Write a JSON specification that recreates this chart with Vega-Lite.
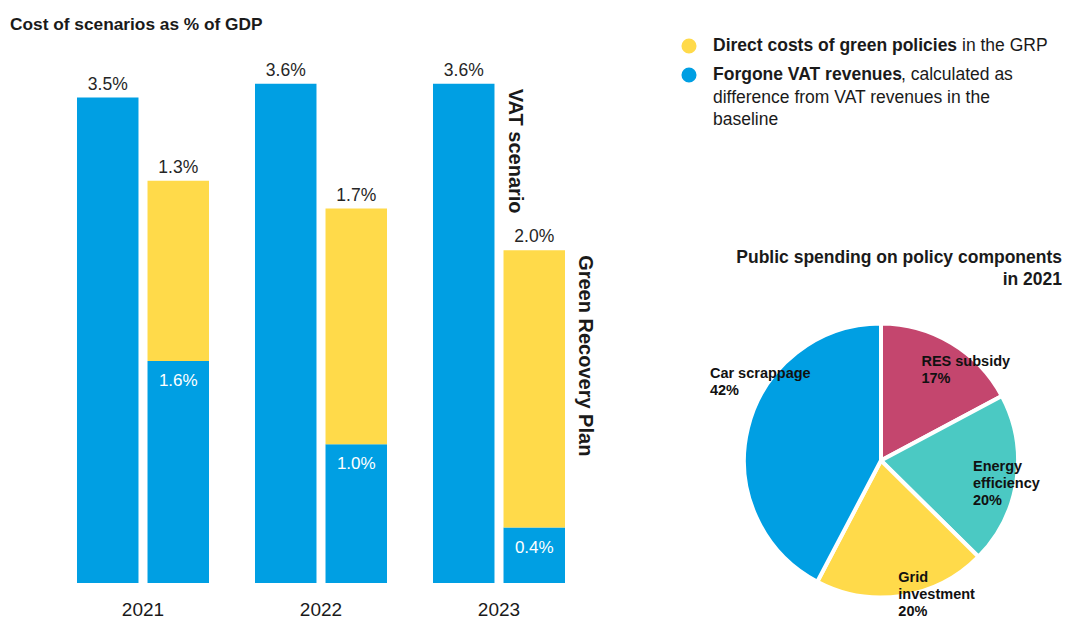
{
  "$schema": "https://vega.github.io/schema/vega-lite/v6.json",
  "padding": {"left": 10, "top": 15, "right": 0, "bottom": 0},
  "background": "white",
  "title": {"text": "Cost of scenarios as % of GDP", "anchor": "start", "fontSize": 17.3, "fontWeight": "bold", "color": "#1a1a1a", "offset": 3, "font": "Liberation Sans"},
  "bounds": "flush",
  "spacing": 68,
  "config": {
    "view": {"stroke": null},
    "font": "Liberation Sans",
    "text": {"font": "Liberation Sans"},
    "title": {"font": "Liberation Sans"},
    "axis": {"labelFont": "Liberation Sans"}
  },
  "resolve": {"scale": {"color": "independent"}},
  "datasets": {
    "bars": [
      {"year": "2021", "scenario": "VAT scenario", "component": "Forgone VAT revenues", "value": 0.035},
      {"year": "2021", "scenario": "Green Recovery Plan", "component": "Forgone VAT revenues", "value": 0.016},
      {"year": "2021", "scenario": "Green Recovery Plan", "component": "Direct costs of green policies", "value": 0.013},
      {"year": "2022", "scenario": "VAT scenario", "component": "Forgone VAT revenues", "value": 0.036},
      {"year": "2022", "scenario": "Green Recovery Plan", "component": "Forgone VAT revenues", "value": 0.010},
      {"year": "2022", "scenario": "Green Recovery Plan", "component": "Direct costs of green policies", "value": 0.017},
      {"year": "2023", "scenario": "VAT scenario", "component": "Forgone VAT revenues", "value": 0.036},
      {"year": "2023", "scenario": "Green Recovery Plan", "component": "Forgone VAT revenues", "value": 0.004},
      {"year": "2023", "scenario": "Green Recovery Plan", "component": "Direct costs of green policies", "value": 0.020}
    ],
    "legend": [
      {"component": "Direct costs of green policies", "rest": "in the GRP", "more": ""},
      {"component": "Forgone VAT revenues", "rest": ", calculated as", "more": "difference from VAT revenues in the\nbaseline"}
    ],
    "pie": [
      {"item": "RES subsidy", "share": 17.2, "rank": 1, "label": "RES subsidy\n17%"},
      {"item": "Energy efficiency", "share": 20.2, "rank": 2, "label": "Energy\nefficiency\n20%"},
      {"item": "Grid investment", "share": 20.3, "rank": 3, "label": "Grid\ninvestment\n20%"},
      {"item": "Car scrappage", "share": 42.3, "rank": 4, "label": "Car scrappage\n42%"}
    ]
  },
  "hconcat": [
    {
      "width": 622,
      "height": 547,
      "data": {"name": "bars"},
      "transform": [
        {"stack": "value", "groupby": ["year", "scenario"], "sort": [{"field": "component", "order": "descending"}], "as": ["v0", "v1"]}
      ],
      "encoding": {
        "x": {"field": "year", "type": "nominal", "scale": {"paddingInner": 0.2584, "paddingOuter": 0.3764},
              "axis": {"title": null, "domain": false, "ticks": false, "labelAngle": 0, "labelFontSize": 19, "labelColor": "#1a1a1a", "labelPadding": 17}},
        "xOffset": {"field": "scenario", "type": "nominal", "scale": {"domain": ["VAT scenario", "Green Recovery Plan"], "paddingInner": 0.128, "paddingOuter": 0}},
        "y": {"field": "v1", "type": "quantitative", "stack": null, "scale": {"domain": [0, 0.03944], "nice": false}, "axis": null}
      },
      "layer": [
        {
          "mark": {"type": "bar"},
          "encoding": {
            "y2": {"field": "v0"},
            "color": {"field": "component", "type": "nominal", "scale": {"domain": ["Direct costs of green policies", "Forgone VAT revenues"], "range": ["#FFDA4A", "#009FE3"]}, "legend": null}
          }
        },
        {
          "transform": [{"filter": "datum.scenario === 'VAT scenario' || datum.component === 'Direct costs of green policies'"}],
          "mark": {"type": "text", "baseline": "alphabetic", "dy": -8, "fontSize": 17.5, "color": "#262626"},
          "encoding": {"text": {"field": "value", "type": "quantitative", "format": ".1%"}}
        },
        {
          "transform": [{"filter": "datum.scenario === 'Green Recovery Plan' && datum.component === 'Forgone VAT revenues'"}],
          "mark": {"type": "text", "baseline": "alphabetic", "dy": 25, "fontSize": 17, "color": "white"},
          "encoding": {"text": {"field": "value", "type": "quantitative", "format": ".1%"}}
        },
        {
          "transform": [{"filter": "datum.year === '2023' && (datum.scenario === 'VAT scenario' || datum.component === 'Direct costs of green policies')"}],
          "mark": {"type": "text", "angle": 90, "align": "left", "baseline": "alphabetic", "dx": 5, "dy": -45, "fontSize": 20, "fontWeight": "bold", "color": "#1a1a1a"},
          "encoding": {"text": {"field": "scenario", "type": "nominal"}}
        }
      ]
    },
    {
      "bounds": "flush",
      "spacing": 184,
      "resolve": {"scale": {"color": "independent"}},
      "vconcat": [
        {
          "width": 362,
          "height": 90,
          "data": {"name": "legend"},
          "encoding": {
            "y": {"field": "component", "type": "nominal", "scale": {"type": "point", "domain": ["Direct costs of green policies", "Forgone VAT revenues"], "range": [10, 39], "padding": 0}, "axis": null}
          },
          "layer": [
            {
              "mark": {"type": "point", "filled": true, "size": 227, "opacity": 1},
              "encoding": {
                "x": {"datum": "symbol", "type": "nominal", "scale": {"type": "point", "domain": ["symbol", "label"], "range": [-11, 13], "padding": 0}, "axis": null},
                "color": {"field": "component", "type": "nominal", "scale": {"domain": ["Direct costs of green policies", "Forgone VAT revenues"], "range": ["#FFDA4A", "#009FE3"]}, "legend": null}
              }
            },
            {
              "mark": {"type": "text", "align": "left", "baseline": "middle", "fontSize": 17.5, "fontWeight": "bold", "color": "#1a1a1a"},
              "encoding": {
                "x": {"datum": "label", "type": "nominal", "scale": {"type": "point", "domain": ["symbol", "label"], "range": [-11, 13], "padding": 0}, "axis": null},
                "text": {"field": "component", "type": "nominal"}
              }
            },
            {
              "transform": [{"filter": "datum.component === 'Direct costs of green policies'"}],
              "mark": {"type": "text", "align": "left", "baseline": "middle", "fontSize": 17.5, "dx": 249, "color": "#1a1a1a"},
              "encoding": {
                "x": {"datum": "label", "type": "nominal", "scale": {"type": "point", "domain": ["symbol", "label"], "range": [-11, 13], "padding": 0}, "axis": null},
                "text": {"field": "rest", "type": "nominal"}
              }
            },
            {
              "transform": [{"filter": "datum.component === 'Forgone VAT revenues'"}],
              "mark": {"type": "text", "align": "left", "baseline": "middle", "fontSize": 17.5, "dx": 188, "color": "#1a1a1a"},
              "encoding": {
                "x": {"datum": "label", "type": "nominal", "scale": {"type": "point", "domain": ["symbol", "label"], "range": [-11, 13], "padding": 0}, "axis": null},
                "text": {"field": "rest", "type": "nominal"}
              }
            },
            {
              "transform": [{"filter": "datum.component === 'Forgone VAT revenues'"}],
              "mark": {"type": "text", "align": "left", "baseline": "alphabetic", "fontSize": 17.5, "dy": 28, "lineBreak": "\n", "lineHeight": 21.5, "color": "#1a1a1a"},
              "encoding": {
                "x": {"datum": "label", "type": "nominal", "scale": {"type": "point", "domain": ["symbol", "label"], "range": [-11, 13], "padding": 0}, "axis": null},
                "text": {"field": "more", "type": "nominal"}
              }
            }
          ]
        },
        {
          "width": 362,
          "height": 301,
          "title": {"text": ["Public spending on policy components", "in 2021"], "anchor": "end", "fontSize": 17.5, "fontWeight": "bold", "lineHeight": 22, "offset": 15, "color": "#1a1a1a"},
          "data": {"name": "pie"},
          "encoding": {
            "theta": {"field": "share", "type": "quantitative", "stack": true},
            "order": {"field": "rank", "type": "quantitative"}
          },
          "layer": [
            {
              "mark": {"type": "arc", "outerRadius": 137, "stroke": "white", "strokeWidth": 4},
              "encoding": {
                "color": {"field": "item", "type": "nominal", "scale": {"domain": ["RES subsidy", "Energy efficiency", "Grid investment", "Car scrappage"], "range": ["#C4466E", "#4BC9C3", "#FFDA4A", "#009FE3"]}, "legend": null}
              }
            },
            {
              "mark": {"type": "text", "radius": 100, "align": "left", "baseline": "top", "fontSize": 14.5, "fontWeight": "bold", "lineBreak": "\n", "lineHeight": 17, "dx": -11, "dy": -20, "color": "#111111"},
              "encoding": {"text": {"condition": {"test": "datum.item === 'RES subsidy'", "field": "label", "type": "nominal"}, "value": ""}}
            },
            {
              "mark": {"type": "text", "radius": 100, "align": "left", "baseline": "top", "fontSize": 14.5, "fontWeight": "bold", "lineBreak": "\n", "lineHeight": 17, "dx": -7, "dy": -15, "color": "#111111"},
              "encoding": {"text": {"condition": {"test": "datum.item === 'Energy efficiency'", "field": "label", "type": "nominal"}, "value": ""}}
            },
            {
              "mark": {"type": "text", "radius": 100, "align": "left", "baseline": "top", "fontSize": 14.5, "fontWeight": "bold", "lineBreak": "\n", "lineHeight": 17, "dx": 2, "dy": 12, "color": "#111111"},
              "encoding": {"text": {"condition": {"test": "datum.item === 'Grid investment'", "field": "label", "type": "nominal"}, "value": ""}}
            },
            {
              "mark": {"type": "text", "radius": 100, "align": "left", "baseline": "top", "fontSize": 14.5, "fontWeight": "bold", "lineBreak": "\n", "lineHeight": 17, "dx": -74, "dy": -70, "color": "#111111"},
              "encoding": {"text": {"condition": {"test": "datum.item === 'Car scrappage'", "field": "label", "type": "nominal"}, "value": ""}}
            }
          ]
        }
      ]
    }
  ]
}
